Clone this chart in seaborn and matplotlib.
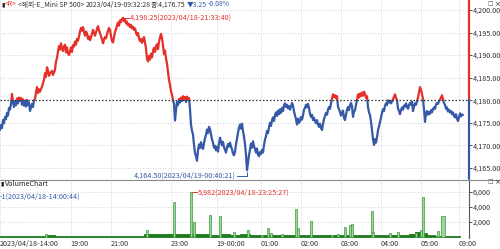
import numpy as np
import pandas as pd
import seaborn as sns
import matplotlib
matplotlib.use("Agg")
import matplotlib.pyplot as plt
from matplotlib.patches import Rectangle

# ---------------- data ----------------
price = [
    4173.4, 4174.5, 4173.8, 4175.6, 4174.9, 4176.3, 4175.8, 4177.2, 4176.6, 4178.3,
    4177.9, 4179.2, 4181.4, 4179.6, 4178.5, 4179.8, 4178.9, 4180.4, 4179.3, 4180.6,
    4179.9, 4180.5, 4179.0, 4180.2, 4178.8, 4179.9, 4178.6, 4180.1, 4178.9, 4179.5,
    4177.6, 4178.4, 4179.2, 4178.5, 4180.0, 4180.3, 4181.8, 4182.9, 4181.6, 4182.4,
    4181.9, 4182.5, 4183.0, 4183.8, 4184.5, 4186.0, 4185.2, 4187.3, 4186.6, 4185.4,
    4185.9, 4186.2, 4186.5, 4185.6, 4186.1, 4186.8, 4188.5, 4189.4, 4190.8, 4192.0,
    4191.2, 4192.6, 4191.5, 4190.9, 4191.9, 4192.3, 4190.6, 4191.7, 4190.4, 4190.0,
    4190.8, 4191.7, 4190.7, 4192.2, 4191.9, 4193.0, 4192.3, 4193.6, 4193.2, 4194.1,
    4195.3, 4196.0, 4195.4, 4196.2, 4195.1, 4194.3, 4195.2, 4194.8, 4193.6, 4194.1,
    4193.3, 4193.9, 4194.8, 4195.6, 4194.9, 4194.3, 4195.0, 4195.8, 4196.4, 4195.5,
    4194.9, 4194.2, 4193.5, 4192.6, 4193.4, 4194.0, 4193.7, 4194.6, 4195.4, 4196.0,
    4195.6, 4194.2, 4193.1, 4192.8, 4194.0, 4195.1, 4195.7, 4196.6, 4197.2, 4196.5,
    4197.7, 4197.3, 4198.0, 4198.25, 4197.5, 4197.9, 4197.0, 4197.4, 4196.6, 4196.9,
    4196.2, 4196.7, 4195.9, 4196.3, 4195.6, 4195.9, 4195.0, 4194.4, 4194.9, 4193.8,
    4193.1, 4193.6, 4192.7, 4193.3, 4194.0, 4192.8, 4191.5, 4189.2, 4188.6, 4189.8,
    4189.0, 4190.3, 4189.5, 4190.9, 4191.6, 4190.7, 4191.9, 4192.4, 4191.3, 4193.0,
    4193.9, 4194.7, 4193.8, 4192.1, 4190.2, 4191.0, 4189.3, 4188.1, 4186.2, 4184.5,
    4183.4, 4182.0, 4181.2, 4180.0, 4179.2, 4175.5, 4177.8, 4179.6, 4178.9, 4180.3,
    4179.5, 4180.6, 4179.8, 4180.9, 4180.1, 4180.7, 4179.6, 4180.8, 4180.2, 4180.5,
    4178.0, 4174.6, 4173.2, 4172.4, 4170.1, 4168.3, 4167.6, 4166.6, 4168.9, 4170.2,
    4169.4, 4170.7, 4169.8, 4169.2, 4170.5, 4171.6, 4172.3, 4173.5, 4172.7, 4174.1,
    4173.6, 4172.4, 4171.3, 4170.6, 4169.5, 4169.9, 4168.9, 4169.7, 4168.6, 4170.4,
    4171.7, 4170.9, 4170.0, 4170.8, 4169.6, 4169.0, 4168.4, 4169.5, 4170.3, 4169.7,
    4170.6, 4169.8, 4169.1, 4168.2, 4167.8, 4168.6, 4170.2, 4171.5, 4172.8, 4173.9,
    4174.6, 4173.7, 4174.8, 4173.2, 4171.9, 4170.3, 4167.9, 4164.5, 4166.2, 4167.8,
    4169.1, 4170.4, 4169.5, 4170.9, 4169.8, 4169.2, 4168.4, 4169.3, 4168.0, 4167.6,
    4168.5, 4168.1, 4169.0, 4168.4, 4170.1, 4171.3, 4172.0, 4173.2, 4172.7, 4174.0,
    4175.0, 4174.3, 4175.6, 4176.2, 4175.4, 4176.7, 4177.3, 4176.5, 4177.7, 4176.9,
    4178.0, 4177.2, 4178.3, 4177.6, 4178.9, 4179.3, 4178.5, 4179.0, 4178.2, 4178.7,
    4177.9, 4178.6, 4179.4, 4178.8, 4177.5, 4176.6, 4175.8, 4174.6, 4175.9, 4175.0,
    4175.4, 4176.3, 4175.7, 4176.6, 4177.9, 4178.3, 4179.0, 4178.4, 4179.2, 4178.3,
    4177.0, 4176.3, 4176.8, 4175.6, 4176.1, 4175.4, 4174.9, 4175.6, 4174.6, 4174.1,
    4174.8, 4173.9, 4173.4, 4174.7, 4175.8, 4176.5, 4177.2, 4176.8, 4177.9, 4178.5,
    4178.1, 4179.3, 4180.4, 4181.3, 4180.7, 4181.1, 4180.4, 4180.9, 4178.6, 4178.0,
    4177.4, 4176.6, 4177.1, 4177.7, 4176.1, 4175.6, 4176.7, 4177.9, 4178.5, 4177.8,
    4178.9, 4179.4, 4178.7, 4176.3, 4177.5, 4177.8, 4179.0, 4180.2, 4181.3, 4180.6,
    4181.5, 4180.9, 4181.7, 4181.0, 4181.9, 4181.4, 4180.5, 4180.9, 4178.5, 4177.3,
    4176.7, 4175.2, 4173.4, 4171.3, 4170.1, 4171.4, 4170.6, 4171.8, 4173.3, 4174.2,
    4175.2, 4176.1, 4177.2, 4178.0, 4177.6, 4178.8, 4179.3, 4178.9, 4180.0, 4179.5,
    4179.9, 4179.3, 4179.7, 4180.2, 4180.8, 4181.3, 4180.5, 4180.0, 4178.2, 4177.6,
    4176.9, 4177.8, 4178.4, 4177.9, 4178.8, 4178.6, 4179.3, 4178.5, 4178.1, 4178.9,
    4179.4, 4179.0, 4179.7, 4177.6, 4178.6, 4179.3, 4179.0, 4179.8, 4180.6, 4181.7,
    4182.9, 4182.3, 4181.4, 4180.2, 4178.0, 4175.2, 4177.1, 4177.6, 4176.8, 4177.4,
    4177.0, 4177.8, 4177.3, 4178.0, 4178.4, 4178.1, 4179.0, 4179.4, 4179.2, 4179.8,
    4180.1, 4180.6, 4181.1, 4180.2, 4179.4, 4179.0, 4178.1, 4178.4, 4177.5, 4177.9,
    4177.3, 4177.6, 4176.9, 4177.3, 4176.5, 4176.2, 4176.9, 4175.9, 4175.4, 4176.3,
    4177.1, 4176.4, 4176.8, 4176.75,
]
ref_price = 4180.0

tick_labels = ["2023/04/18-14:00", "19:00", "21:00", "23:00", "19-00:00",
               "01:00", "02:00", "03:00", "04:00", "05:00", "09:00"]
tick_index = [0, 70.7, 110.7, 170.7, 216.7, 260.7, 300.7, 340.7, 380.7, 420.7, 459]

price_ticks = [4165, 4170, 4175, 4180, 4185, 4190, 4195, 4200]
vol_ticks = [2000, 4000, 6000]

# volume spikes
spike_index = [46, 147, 174, 191, 194, 210, 220, 234, 248, 262, 268, 271, 282, 296,
               298, 311, 332, 338, 345, 350, 352, 372, 373, 390, 398, 416, 421, 423,
               438, 443]
spike_vol = [400, 900, 4670, 5982, 2000, 2930, 2800, 700, 930, 300, 1200, 500, 400,
             3700, 1200, 2100, 300, 400, 1300, 1600, 1800, 3500, 700, 500, 700, 500,
             900, 5300, 800, 2800]
# low background volume
base_index = [0, 10, 20, 30, 40, 50, 60, 70, 80, 90, 100, 110, 120, 130, 140, 147,
              155, 165, 175, 185, 195, 205, 215, 225, 235, 245, 255, 265, 275, 285,
              295, 305, 315, 325, 335, 345, 355, 365, 375, 385, 395, 405, 412, 418,
              424, 430, 440, 450, 460]
base_vol = [150, 180, 140, 200, 160, 220, 180, 150, 200, 160, 140, 180, 150, 170,
            200, 450, 400, 380, 420, 350, 400, 380, 330, 360, 300, 340, 280, 260,
            240, 260, 230, 250, 220, 260, 240, 230, 250, 220, 260, 230, 250, 240,
            400, 650, 600, 300, 200, 150, 100]

# ---------------- style ----------------
sns.set_theme(style="white")
plt.rcParams['font.family'] = ['Noto Sans CJK KR', 'DejaVu Sans']

RED = "#e5302a"
BLUE = "#3559a6"
GRID = "#c8c8c8"
DKGREEN = "#1f7a1f"
LTGREEN = "#9ed59a"
TXT = "#333333"
FS = 5.2
HFS = 4.9

fig = plt.figure(figsize=(5.0, 2.49), dpi=100)
W, H = 500, 249
XMAX = 469

def fx(px):
    return px / W

def fy(py):
    return 1 - py / H

ax = fig.add_axes([0, fy(179), fx(XMAX), fy(0) - fy(179)])
axv = fig.add_axes([0, fy(238), fx(XMAX), fy(180) - fy(238)])

df = pd.DataFrame({"idx": np.arange(len(price)), "price": price})

# price line, twice with clipping (red above ref, blue below)
y_lo, y_hi = 4162.55, 4202.2
for col, (lo, hi) in [(BLUE, (y_lo, ref_price)), (RED, (ref_price, y_hi))]:
    sns.lineplot(data=df, x="idx", y="price", ax=ax, color=col, lw=1.6,
                 estimator=None)
    ln = ax.lines[-1]
    clip = Rectangle((0, lo), XMAX, hi - lo, transform=ax.transData)
    ln.set_clip_path(clip)

ax.set_xlim(0, XMAX)
ax.set_ylim(y_lo, y_hi)
ax.axhline(ref_price, color="#333333", lw=0.9, ls=(0, (1.2, 1.6)))

for a in (ax, axv):
    for t in tick_index:
        a.axvline(t, color=GRID, lw=0.6, ls=(0, (1, 2)), zorder=0)
for p in price_ticks:
    if p != ref_price:
        ax.axhline(p, color=GRID, lw=0.6, ls=(0, (1, 2)), zorder=0)

ax.set_xticks([])
ax.set_yticks(price_ticks)
ax.yaxis.tick_right()
ax.set_yticklabels([f"{v:,.2f}" for v in price_ticks], fontsize=FS, color=TXT)
ax.tick_params(axis="y", length=2, width=0.6, pad=0.5, colors=TXT)
ax.set_xlabel("")
ax.set_ylabel("")
for s in ["top", "left", "bottom", "right"]:
    ax.spines[s].set_visible(False)
# right colored axis line
frac = (ref_price - y_lo) / (y_hi - y_lo)
ax.axvline(XMAX - 0.3, ymin=frac, ymax=1, color=RED, lw=1.6, clip_on=False)
ax.axvline(XMAX - 0.3, ymin=0, ymax=frac, color=BLUE, lw=1.6, clip_on=False)

# annotations in price panel
i_max = int(np.argmax(price))
i_min = int(np.argmin(price))
ax.plot([i_max, i_max + 6], [price[i_max], price[i_max]], color=RED, lw=0.7)
ax.text(i_max + 6.5, price[i_max], "4,198.25(2023/04/18-21:33:40)", color=RED,
        fontsize=FS, va="center", ha="left")
ymin_txt = 4163.3
ax.plot([i_min - 10, i_min, i_min], [ymin_txt, ymin_txt, price[i_min] - 0.3],
        color=BLUE, lw=0.7)
ax.text(i_min - 11, ymin_txt, "4,164.50(2023/04/19-00:40:21)", color=BLUE,
        fontsize=FS, va="center", ha="right")

# volume panel
axv.fill_between(base_index, base_vol, 0, color=DKGREEN, lw=0.6, step="mid")
widths = [3.5 if v == 2800 and i > 440 else 1.3 for i, v in zip(spike_index, spike_vol)]
axv.bar(spike_index, spike_vol, width=widths, color=LTGREEN, edgecolor="#3c9a3c",
        lw=0.5, zorder=3)
axv.set_xlim(0, XMAX)
axv.set_ylim(-130, 7600)
for v in vol_ticks:
    axv.axhline(v, color=GRID, lw=0.6, ls=(0, (1, 2)), zorder=0)
axv.yaxis.tick_right()
axv.set_yticks(vol_ticks)
axv.set_yticklabels([f"{v:,}" for v in vol_ticks], fontsize=FS, color=TXT)
axv.tick_params(axis="y", length=2, width=0.6, pad=0.5, colors=TXT)
axv.set_xticks(tick_index)
axv.set_xticklabels(tick_labels, fontsize=FS, color=TXT, ha="left")
axv.tick_params(axis="x", length=0, pad=1.5)
for s in ["top", "left", "bottom"]:
    axv.spines[s].set_visible(False)
axv.spines["right"].set_color("#555555")
axv.spines["right"].set_linewidth(0.8)

i_vmax = int(np.argmax(spike_vol))
xv = spike_index[i_vmax]
axv.plot([xv, xv + 6], [spike_vol[i_vmax], spike_vol[i_vmax]], color=RED, lw=0.7)
axv.text(xv + 6.5, spike_vol[i_vmax], "5,982(2023/04/18-23:25:27)", color=RED,
         fontsize=FS, va="center", ha="left")

# separators
fig.add_artist(plt.Line2D([0, 1], [fy(179.5), fy(179.5)], color="#8a8a8a", lw=0.8))

# headers
HY = fy(4.5)
fig.text(0.002, HY, "▮", fontsize=4.5, color="#222222", va="center", ha="left",
         family="DejaVu Sans")
fig.text(fx(5), HY, "<R>", fontsize=HFS, color=RED, va="center", ha="left")
fig.text(fx(18.5), HY, "<해외-E_Mini SP 500>", fontsize=HFS, color=TXT,
         va="center", ha="left")
fig.text(fx(86), HY, "2023/04/19-09:32:28", fontsize=HFS, color=TXT,
         va="center", ha="left")
fig.text(fx(151), HY, "종:4,176.75", fontsize=HFS, color=TXT,
         va="center", ha="left")
fig.text(fx(187), HY, "▼3.25", fontsize=HFS, color=BLUE, va="center", ha="left")
fig.text(fx(208), HY, "-0.08%", fontsize=HFS, color=BLUE, va="center", ha="left")
fig.text(fx(0), fy(184), "▮", fontsize=4.5, color="#222222", va="center",
         ha="left", family="DejaVu Sans")
fig.text(fx(4.5), fy(184), "VolumeChart", fontsize=FS, color="#222222",
         va="center", ha="left")
fig.text(fx(0), fy(197), "-1(2023/04/18-14:00:44)", fontsize=FS, color=BLUE,
         va="center", ha="left")
for yy in (4, 182):
    fig.text(fx(487), fy(yy), "□", fontsize=4.2, color="#555555", va="center",
             ha="left", family="DejaVu Sans")
    fig.text(fx(494), fy(yy), "×", fontsize=5, color="#333333", va="center",
             ha="left", family="DejaVu Sans")

fig.savefig("out.png", dpi=100)
